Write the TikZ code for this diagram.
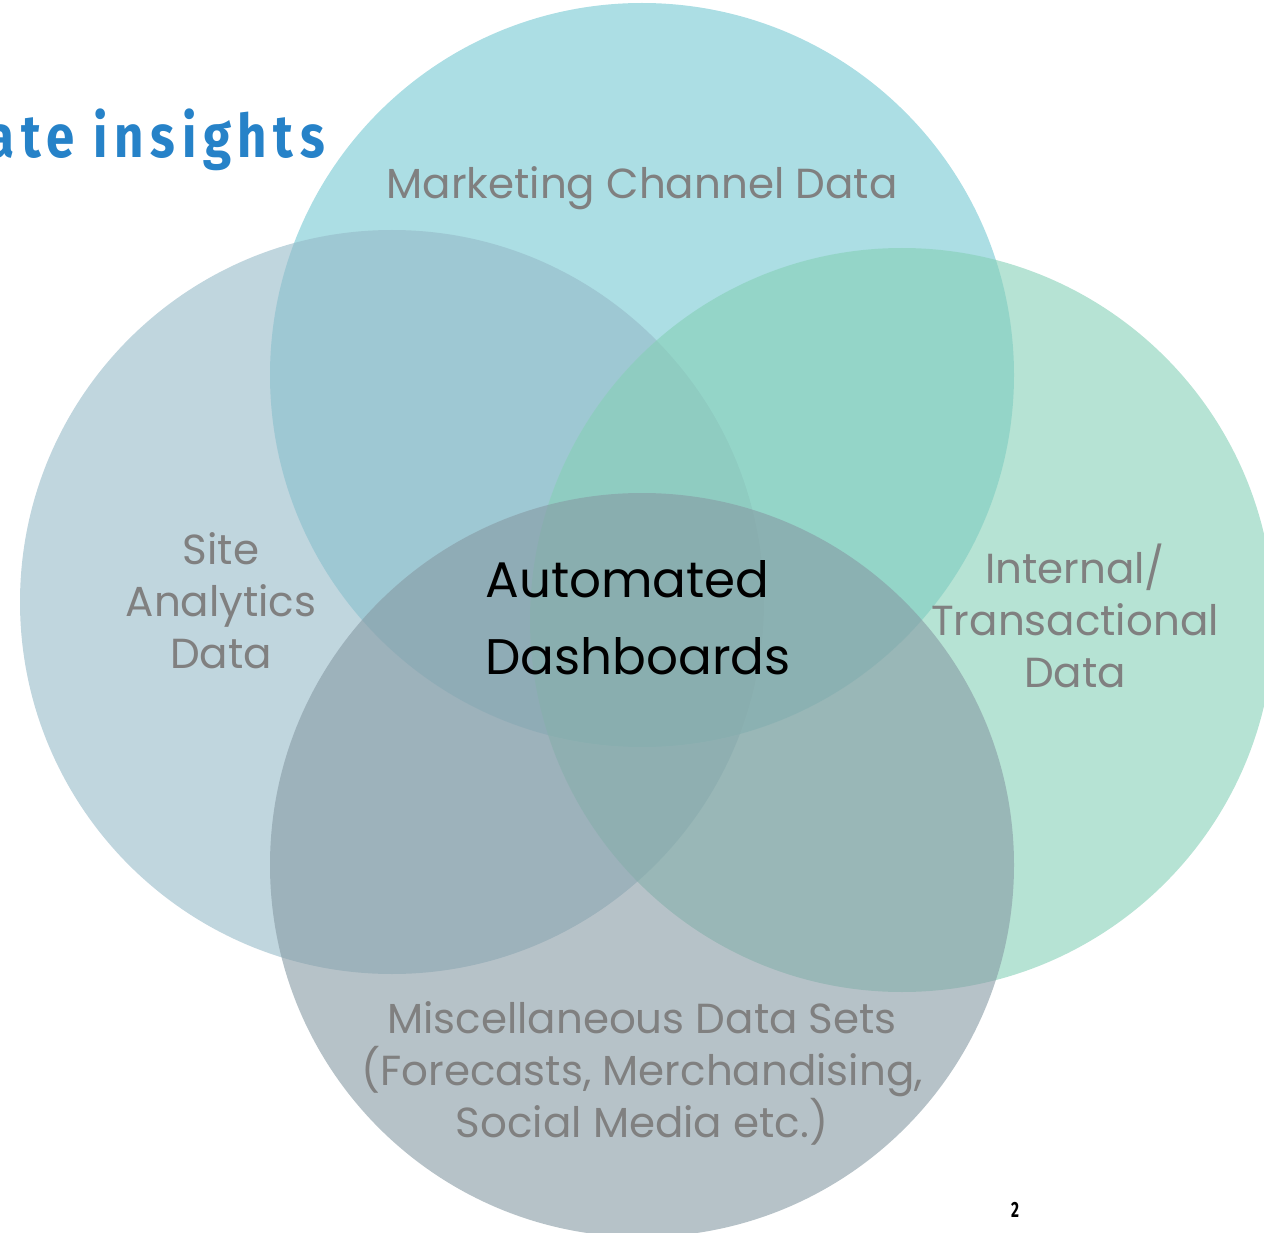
\documentclass[tikz,border=0pt]{standalone}
\usepackage{fontspec}
\setmainfont{Poppins}
\newfontfamily\titlefont{Fira Sans}[LetterSpace=13]
\usepackage{tikz}

\definecolor{mktblue}{RGB}{116,200,210}
\definecolor{siteblue}{RGB}{150,186,200}
\definecolor{intgreen}{RGB}{134,208,183}
\definecolor{miscgray}{RGB}{134,154,164}
\definecolor{labelgray}{RGB}{128,128,128}
\definecolor{titleblue}{RGB}{38,130,200}

\tikzset{
  venn/.style={fill=#1, fill opacity=.6, draw=none},
  setlabel/.style={text=labelgray, align=center, font=\fontsize{42}{52}\selectfont},
}

\begin{document}
\begin{tikzpicture}[x=1pt,y=-1pt]
      \useasboundingbox (0,0) rectangle (1264,1233);

      % the four sets
      \fill[venn=mktblue]   (642,375) circle (372);
      \fill[venn=siteblue]  (392,602) circle (372);
      \fill[venn=intgreen]  (902,620) circle (372);
      \fill[venn=miscgray]  (642,865) circle (372);

      \node[setlabel] (mkt) at (642,188) {Marketing Channel Data};
      \node[setlabel] (site) at (221,601) {Site\\Analytics\\Data};
      \node[setlabel] (internal) at (1075,616) {Internal/\\Transactional\\Data};
      \node[setlabel] (misc) at (642,1073)
        {Miscellaneous Data Sets\\(Forecasts, Merchandising,\\Social Media etc.)};

      \node[align=left, font=\fontsize{50}{77}\selectfont] (auto) at (638,618)
        {Automated\\Dashboards};

      \node[anchor=base east, text=titleblue, inner sep=0pt] (title) at (325,158)
        {\titlefont\bfseries\fontsize{60}{62}\selectfont\scalebox{0.85}[1]{ate insights}};
      \node[anchor=base, inner sep=0pt] (page) at (1015,1217)
        {\titlefont\bfseries\fontsize{22}{24}\selectfont\scalebox{0.7}[1]{2}};
    \end{tikzpicture}
\end{document}
